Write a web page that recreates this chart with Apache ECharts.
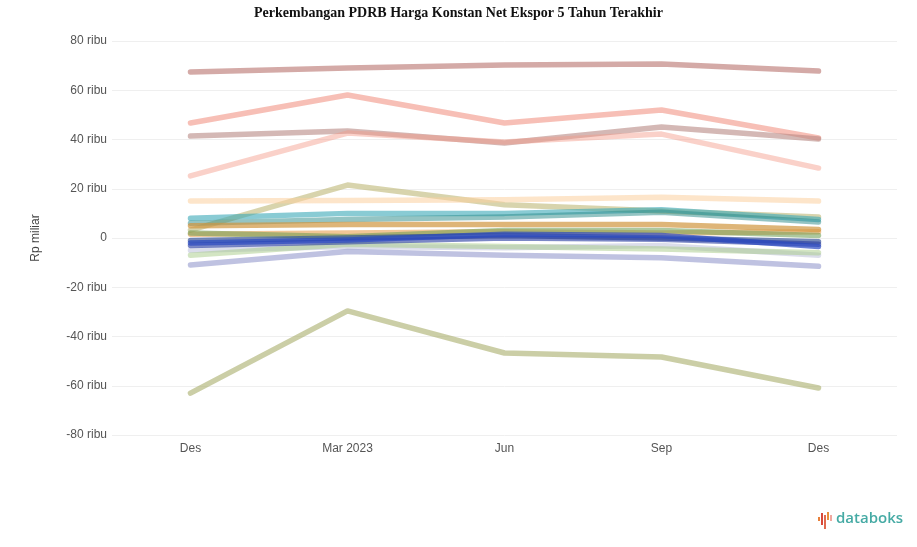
<!DOCTYPE html>
<html>
<head>
<meta charset="utf-8">
<script src="https://cdn.jsdelivr.net/npm/echarts@6/dist/echarts.min.js"></script>
<style>
html,body{margin:0;padding:0;background:#fff;}
#chart{width:917px;height:547px;}
</style>
</head>
<body>
<div id="chart"></div>
<script>
const categories = ['Des', 'Mar 2023', 'Jun', 'Sep', 'Des'];
const yTicks = [-80000, -60000, -40000, -20000, 0, 20000, 40000, 60000, 80000];

const seriesA = [67400, 69000, 70300, 70700, 67800];
const seriesB = [46700, 58100, 46700, 52000, 40600];
const seriesC = [41400, 43500, 38600, 45100, 40200];
const seriesD = [25200, 42600, 39000, 42200, 28400];
const seriesE = [3200, 21500, 13500, 11000, 8500];
const seriesF = [15000, 15200, 15500, 16500, 15000];
const seriesG = [8000, 10000, 10000, 11500, 7500];
const seriesG2 = [6000, 7500, 8500, 10500, 6500];
const seriesH = [5000, 5500, 5500, 5500, 3500];
const seriesI = [-2000, -800, 1500, 1000, -3500];
const seriesI2 = [-3000, -1500, 0, -500, -2500];
const seriesJ = [-11000, -5500, -7000, -8000, -11500];
const seriesK = [-63000, -29600, -46700, -48300, -60900];
const seriesL = [-7000, -2500, -3500, -4500, -6000];
const seriesM = [-1000, 0, 1000, 0, -1500];
const seriesN = [2000, 500, 3000, 3000, 1000];
const seriesO = [-5000, -3500, -4000, -3000, -7000];
const seriesP = [1500, 2000, 2500, 2000, 2500];

const lineDefs = [
  {name: 'A', data: seriesA, color: '#b8716c', op: 0.6},
  {name: 'B', data: seriesB, color: '#f0806e', op: 0.5},
  {name: 'C', data: seriesC, color: '#b88883', op: 0.6},
  {name: 'D', data: seriesD, color: '#f59a88', op: 0.45},
  {name: 'E', data: seriesE, color: '#b8b06a', op: 0.55},
  {name: 'F', data: seriesF, color: '#fbcf9e', op: 0.55},
  {name: 'O', data: seriesO, color: '#b8bcd8', op: 0.5},
  {name: 'L', data: seriesL, color: '#a8cc88', op: 0.5},
  {name: 'J', data: seriesJ, color: '#8a90c8', op: 0.55},
  {name: 'G', data: seriesG, color: '#3aa8b8', op: 0.6},
  {name: 'G2', data: seriesG2, color: '#2a8a88', op: 0.5},
  {name: 'P', data: seriesP, color: '#e8a050', op: 0.6},
  {name: 'N', data: seriesN, color: '#6a9a50', op: 0.55},
  {name: 'H', data: seriesH, color: '#d0963e', op: 0.7},
  {name: 'M', data: seriesM, color: '#1a3a8a', op: 0.6},
  {name: 'I2', data: seriesI2, color: '#2438a0', op: 0.6},
  {name: 'I', data: seriesI, color: '#2a48c0', op: 0.7},
  {name: 'K', data: seriesK, color: '#a8ae6a', op: 0.6}
];

const chart = echarts.init(document.getElementById('chart'));
chart.setOption({
  animation: false,
  backgroundColor: '#ffffff',
  title: {
    text: 'Perkembangan PDRB Harga Konstan Net Ekspor 5 Tahun Terakhir',
    left: 'center',
    top: 1,
    textStyle: {fontFamily: 'Liberation Serif', fontWeight: 'bold', fontSize: 14, color: '#111'}
  },
  grid: {left: 112, right: 20, top: 41, bottom: 112},
  xAxis: {
    type: 'category',
    data: categories,
    boundaryGap: true,
    axisLine: {show: false},
    axisTick: {show: false},
    axisLabel: {color: '#555', fontSize: 12, fontFamily: 'Liberation Sans', margin: 8}
  },
  yAxis: {
    type: 'value',
    min: yTicks[0],
    max: yTicks[yTicks.length - 1],
    interval: 20000,
    name: 'Rp miliar',
    nameLocation: 'middle',
    nameGap: 70,
    nameTextStyle: {color: '#444', fontSize: 12, fontFamily: 'Liberation Sans'},
    axisLine: {show: false},
    axisTick: {show: false},
    splitLine: {lineStyle: {color: '#efefef', width: 1}},
    axisLabel: {
      color: '#555', fontSize: 12, fontFamily: 'Liberation Sans', margin: 5,
      formatter: v => v === 0 ? '0' : (v / 1000) + ' ribu'
    }
  },
  series: lineDefs.map(d => ({
    name: d.name,
    type: 'line',
    data: d.data,
    showSymbol: false,
    symbol: 'none',
    lineStyle: {color: d.color, width: 5.5, opacity: d.op, cap: 'round', join: 'round'},
    itemStyle: {color: d.color}
  })),
  graphic: [
    {type: 'rect', left: 818, top: 517, shape: {width: 2, height: 4}, style: {fill: '#e8803a'}},
    {type: 'rect', left: 821, top: 513, shape: {width: 2, height: 12}, style: {fill: '#d84a3a'}},
    {type: 'rect', left: 824, top: 515, shape: {width: 2, height: 14}, style: {fill: '#e06a50'}},
    {type: 'rect', left: 827, top: 512, shape: {width: 2, height: 8}, style: {fill: '#e8903a'}},
    {type: 'rect', left: 830, top: 515, shape: {width: 2, height: 6}, style: {fill: '#f0a8a0'}},
    {type: 'text', left: 836, top: 511, style: {text: 'databoks', fill: '#45aaa4', font: '600 15px "Open Sans", sans-serif'}}
  ]
});
</script>
</body>
</html>
